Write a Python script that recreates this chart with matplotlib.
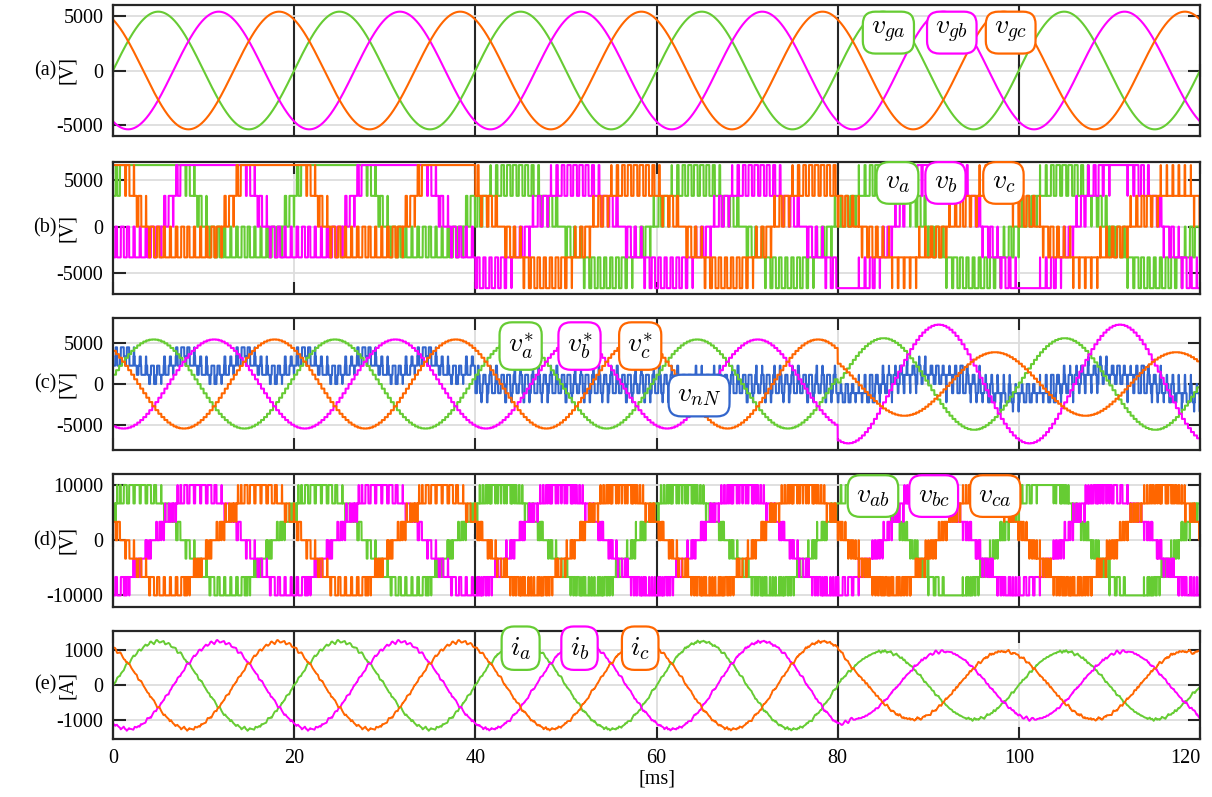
# multilevel converter waveforms: grid, phase, reference, line voltages and currents

import numpy as np
import matplotlib
matplotlib.use('Agg')
import matplotlib.pyplot as plt

plt.rcParams['font.family'] = ['Liberation Serif', 'DejaVu Serif']
plt.rcParams['mathtext.fontset'] = 'cm'
plt.rcParams['axes.unicode_minus'] = False

# ---- parameters ----
F_GRID = 50.0               # Hz
E_STEP = 10000.0 / 3        # voltage step between converter levels [V]
F_CARRIER = 1500.0          # Hz
L_FILTER = 0.003            # H, sets the current ripple
DT = 5e-6                   # s
T_END = 0.120               # s

SEG_EDGES_MS = [0, 40, 80, 120]

# grid voltages v_ga, v_gb, v_gc
VG_AMP = 5390.0
VG_PEAK_MS = [5.0, 11.67, 18.33]

# references v_a*, v_b*, v_c* per segment
REF_AMP = [[5400, 5400, 5400],
           [5400, 5400, 5400],
           [5550, 7200, 3850]]
REF_PEAK_MS = [[4.33, 11.0, 17.67],
               [4.33, 11.0, 17.67],
               [4.9, 11.0, 17.2]]
TOP_CLAMP = [True, False, False]      # zero sequence: clamp highest phase to top level
LEVEL_MIN = [-1, -2, -2]
LEVEL_MAX = [2, 2, 2]

# current amplitude (knots in ms) and peak times of i_a, i_b, i_c
I_KNOTS_MS = [0, 80, 81.5, 120]
I_KNOTS_AMP = [1250, 1250, 970, 970]
I_PEAK_MS = [5.0, 11.67, 18.33]

GREEN = '#66cc33'
MAGENTA = '#ff00ff'
ORANGE = '#ff6600'
BLUE = '#3366cc'
COLORS = [GREEN, MAGENTA, ORANGE]

# ---- simple converter model ----
t = np.arange(0, T_END + DT / 2, DT)
t_ms = t * 1000
seg = np.clip(np.searchsorted(SEG_EDGES_MS, t_ms, side='right') - 1, 0, 2)
w = 2 * np.pi * F_GRID

vg = np.array([VG_AMP * np.cos(w * (t - p / 1000)) for p in VG_PEAK_MS])

ts_ctrl = 1 / (2 * F_CARRIER)
t_s = np.floor(t / ts_ctrl + 1e-9) * ts_ctrl
seg_s = np.clip(np.searchsorted(SEG_EDGES_MS, t_s * 1000, side='right') - 1, 0, 2)
ref_amp = np.array(REF_AMP, dtype=float)[seg_s].T
ref_peak = np.array(REF_PEAK_MS)[seg_s].T
vref = ref_amp * np.cos(w * (t_s - ref_peak / 1000))

z = np.where(np.array(TOP_CLAMP)[seg_s], 2 * E_STEP - vref.max(axis=0), 0.0)
u = vref + z

carrier = 1 - np.abs(2 * ((t * F_CARRIER) % 1) - 1)
k = np.floor(u / E_STEP + carrier * 0.999)
k = np.clip(k, np.array(LEVEL_MIN)[seg], np.array(LEVEL_MAX)[seg])
for _ in range(2):
    over = (k.max(axis=0) - k.min(axis=0)) > 3
    imax = k.argmax(axis=0)
    k[imax[over], np.where(over)[0]] -= 1

v = k * E_STEP
vnN = v.mean(axis=0)
vline = np.array([v[0] - v[1], v[1] - v[2], v[2] - v[0]])

err = (v - vnN) - (u - u.mean(axis=0))
rip = np.cumsum(err, axis=1) * DT / L_FILTER
win = int(round(2 / F_CARRIER / DT))
kern = np.ones(win) / win
rip = np.array([r - np.convolve(r, kern, mode='same') for r in rip])
i_amp = np.interp(t_ms, I_KNOTS_MS, I_KNOTS_AMP)
cur = np.array([i_amp * np.cos(w * (t - p / 1000)) for p in I_PEAK_MS]) + rip

# ---- figure ----
fig = plt.figure(figsize=(12.12, 7.97), dpi=100)
H = 797.0
panels_px = [(5, 136), (162, 294), (318, 450), (474, 607), (631, 739)]
axes = []
for top, bot in panels_px:
    ax = fig.add_axes([113 / 1212, 1 - bot / H, 1087 / 1212, (bot - top) / H])
    axes.append(ax)

ylims = [(-6000, 6000), (-7300, 7000), (-8000, 8000), (-12100, 12000), (-1530, 1550)]
yticks = [[-5000, 0, 5000]] * 3 + [[-10000, 0, 10000], [-1000, 0, 1000]]
units = ['[V]', '[V]', '[V]', '[V]', '[A]']
letters = ['(a)', '(b)', '(c)', '(d)', '(e)']
full_ticks = [True, False, False, True, False]
dark_lines = [[], [40, 80], [], [], [20, 40, 80]]
FS = 14.5

lw = 1.5
for p in range(3):
    axes[0].plot(t_ms, vg[p], color=COLORS[p], lw=lw)
for p in range(3):
    axes[1].plot(t_ms, v[p], color=COLORS[p], lw=lw)
axes[2].plot(t_ms, vnN, color=BLUE, lw=lw)
for p in range(3):
    axes[2].plot(t_ms, vref[p], color=COLORS[p], lw=lw)
for p in range(3):
    axes[3].plot(t_ms, vline[p], color=COLORS[p], lw=lw)
for p in range(3):
    axes[4].plot(t_ms, cur[p], color=COLORS[p], lw=1.4)

for i, ax in enumerate(axes):
    ax.set_xlim(0, 120)
    ax.set_ylim(*ylims[i])
    ax.set_xticks(np.arange(0, 121, 20))
    ax.set_yticks(yticks[i])
    ax.grid(True, color='#dddddd', lw=1.3)
    ax.set_axisbelow(True)
    h_px = panels_px[i][1] - panels_px[i][0]
    xlen = (h_px * 0.55 if full_ticks[i] else 12) * 0.72
    ax.tick_params(axis='x', direction='in', top=True, bottom=True, length=xlen,
                   width=1.5, color='#262626', labelsize=FS, pad=7)
    ax.tick_params(axis='y', direction='in', left=True, right=True, length=9,
                   width=1.5, color='#262626', labelsize=FS, pad=7)
    for xv in dark_lines[i]:
        ax.axvline(xv, color='#262626', lw=1.5, zorder=1.5)
    for s in ax.spines.values():
        s.set_color('#262626')
        s.set_linewidth(1.6)
    if i < 4:
        ax.set_xticklabels([])
    ax.text(-0.0626, 0.5, letters[i], transform=ax.transAxes, fontsize=FS,
            ha='center', va='center')
    ax.text(-0.0414, 0.5, units[i], transform=ax.transAxes, fontsize=FS,
            ha='center', va='center', rotation=90)

axes[4].set_xlabel('[ms]', fontsize=FS, labelpad=1)
axes[4].get_xticklabels()[-1].set_ha('right')

# labels in rounded boxes
tags = [
    (0, [(85.6, 3470, r'$v_{ga}$', GREEN), (92.6, 3470, r'$v_{gb}$', MAGENTA),
         (99.1, 3470, r'$v_{gc}$', ORANGE)]),
    (1, [(86.6, 4730, r'$v_{a}$', GREEN), (91.9, 4730, r'$v_{b}$', MAGENTA),
         (98.3, 4730, r'$v_{c}$', ORANGE)]),
    (2, [(45.0, 4600, r'$v_{a}^{*}$', GREEN), (51.5, 4600, r'$v_{b}^{*}$', MAGENTA),
         (58.2, 4600, r'$v_{c}^{*}$', ORANGE), (64.7, -1400, r'$v_{nN}$', BLUE)]),
    (3, [(83.9, 8000, r'$v_{ab}$', GREEN), (90.6, 8000, r'$v_{bc}$', MAGENTA),
         (97.4, 8000, r'$v_{ca}$', ORANGE)]),
    (4, [(45.0, 1060, r'$i_{a}$', GREEN), (51.5, 1060, r'$i_{b}$', MAGENTA),
         (58.2, 1060, r'$i_{c}$', ORANGE)]),
]
for i, items in tags:
    for x, y, s, c in items:
        axes[i].text(x, y, s, fontsize=20, ha='center', va='center', zorder=10,
                     bbox=dict(boxstyle='round,pad=0.3,rounding_size=0.45',
                               fc='white', ec=c, lw=1.6))

fig.savefig('out.png', dpi=100)
